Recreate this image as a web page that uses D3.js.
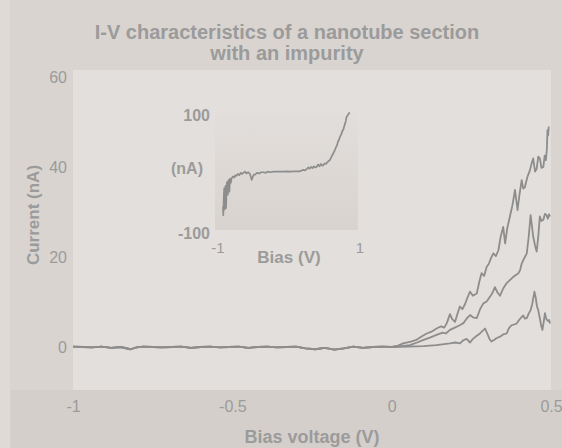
<!DOCTYPE html>
<html><head><meta charset="utf-8">
<script src="https://cdn.jsdelivr.net/npm/d3@7"></script>
<style>
html,body{margin:0;padding:0;background:#d9d4d0;}
svg{display:block;font-family:"Liberation Sans",Arial,sans-serif;}
</style></head>
<body><svg id="c" width="562" height="448"></svg>
<script>
// ---- data ----
const titleLines = ["I-V characteristics of a nanotube section", "with an impurity"];
const xTicks = [-1, -0.5, 0, 0.5];
const yTicks = [0, 20, 40, 60];
const insetXTicks = [-1, 1];
const insetYTicks = [-100, 100];

// shared flat part (V, nA)
const biasFlat = [-1.0,-0.97,-0.94,-0.91,-0.88,-0.85,-0.82,-0.80,-0.78,-0.75,-0.72,-0.69,-0.66,-0.63,-0.60,-0.57,-0.54,-0.51,-0.48,-0.45,-0.42,-0.39,-0.36,-0.33,-0.30,-0.27,-0.24,-0.21,-0.18,-0.15,-0.12,-0.09,-0.06,-0.03,0.0];
const currentFlat = [0.1,0,-0.1,0.1,-0.2,0,-0.5,-0.1,0.1,0,-0.1,0,0.1,-0.2,0,0.1,-0.1,0,0.1,-0.2,0,0.1,-0.1,0,0.1,-0.3,-0.5,-0.2,-0.6,-0.3,0.1,-0.2,0,0.1,0];

const biasHigh = [0.02,0.036,0.06,0.078,0.095,0.11,0.125,0.141,0.155,0.165,0.173,0.183,0.19,0.199,0.207,0.214,0.222,0.23,0.238,0.246,0.255,0.267,0.275,0.282,0.29,0.298,0.305,0.312,0.319,0.327,0.335,0.342,0.35,0.356,0.363,0.371,0.379,0.387,0.395,0.401,0.408,0.413,0.418,0.426,0.434,0.44,0.444,0.45,0.455,0.46,0.465,0.47,0.476,0.48,0.484,0.487,0.489,0.491,0.493];
const currentHigh = [0.3,0.8,1.2,1.6,2.4,3.0,3.4,4.1,4.6,4.3,5.3,7.3,6.2,5.6,7.5,9.0,8.4,9.5,11.0,12.3,11.4,11.9,14.5,16.4,15.8,17.8,18.5,19.8,20.8,20.2,21.5,24.5,26.7,23.0,26.5,29.0,31.5,34.9,30.4,33.8,37.1,35.2,35.5,37.8,39.3,41.0,41.9,39.0,39.6,42.3,41.9,39.8,40.0,42.5,41.5,44.0,48.2,47.0,49.0];

const biasMid = [0.03,0.057,0.08,0.1,0.12,0.141,0.16,0.17,0.183,0.195,0.204,0.215,0.225,0.235,0.246,0.255,0.267,0.278,0.288,0.298,0.309,0.316,0.324,0.332,0.34,0.35,0.361,0.37,0.382,0.39,0.398,0.403,0.408,0.413,0.418,0.424,0.43,0.436,0.44,0.444,0.45,0.455,0.46,0.465,0.47,0.476,0.481,0.486,0.49,0.494,0.497];
const currentMid = [0.2,0.4,1.0,1.6,2.1,2.7,3.2,3.0,3.8,4.2,4.5,4.9,5.3,6.3,7.1,6.6,6.4,8.5,9.7,10.1,11.2,12.0,13.3,12.1,11.4,13.0,14.2,14.8,15.6,16.0,16.4,17.1,18.5,19.3,20.0,20.8,24.5,29.3,27.0,24.6,22.5,21.2,24.5,29.0,28.0,28.3,29.6,29.3,28.5,29.5,29.0];

const biasLow = [0.05,0.1,0.14,0.183,0.2,0.214,0.225,0.235,0.246,0.255,0.265,0.277,0.285,0.293,0.3,0.307,0.313,0.322,0.33,0.34,0.35,0.361,0.368,0.376,0.384,0.392,0.4,0.407,0.413,0.418,0.424,0.43,0.436,0.441,0.444,0.448,0.452,0.456,0.46,0.466,0.47,0.473,0.477,0.481,0.485,0.49,0.494,0.497];
const currentLow = [0.1,0.2,0.4,0.8,1.0,0.8,1.5,1.8,1.0,1.8,2.4,3.0,3.6,4.1,3.0,1.8,1.2,1.6,2.0,2.3,2.8,3.0,4.2,4.8,5.0,5.2,6.0,6.6,7.0,6.3,6.4,7.4,8.2,9.5,10.7,12.3,11.0,9.0,8.2,6.0,4.5,3.8,5.5,7.5,6.3,5.8,6.0,5.2];

const biasInset = [-0.93,-0.925,-0.918,-0.911,-0.905,-0.9,-0.893,-0.887,-0.88,-0.875,-0.869,-0.862,-0.855,-0.848,-0.84,-0.83,-0.82,-0.807,-0.79,-0.77,-0.755,-0.737,-0.72,-0.7,-0.68,-0.66,-0.643,-0.62,-0.6,-0.573,-0.55,-0.535,-0.526,-0.51,-0.495,-0.479,-0.45,-0.42,-0.39,-0.362,-0.33,-0.3,-0.26,-0.22,-0.174,-0.13,-0.08,-0.03,0.02,0.07,0.12,0.155,0.18,0.2,0.22,0.249,0.27,0.29,0.31,0.33,0.35,0.37,0.39,0.41,0.43,0.45,0.47,0.484,0.5,0.52,0.54,0.56,0.577,0.59,0.605,0.62,0.635,0.648,0.66,0.675,0.69,0.705,0.718,0.73,0.745,0.755,0.765,0.78,0.79,0.8,0.812,0.825,0.835,0.845,0.859];
const currentInset = [-55,-70,-35,-24,-60,-40,-20,-58,-30,-15,-13,-35,-20,-10,-30,-8,-15,-7,-4,-6,-2,-3,0,-2,2,0,2,4,1,3,0,-6,-10,-5,-1,-1,2,1,3,3,2,4,3,4,4,4,4,4.5,4,4.5,4.5,4.5,6,7,6,8,11,9,12,10,13,11,12,16,13,17,14,15,18,17,20,22,24,27,31,34,38,41,45,48,55,58,63,66,70,74,75,82,85,90,97,99,101,103,104];

// ---- drawing ----
const svg = d3.select("#c");
const txt = "#9b9b9b", lineCol = "#8d8d8d";

svg.append("rect").attr("width",562).attr("height",448).attr("fill","#d9d4d0");
svg.append("rect").attr("x",0).attr("y",390).attr("width",562).attr("height",58).attr("fill","#d4cfcb");
svg.append("rect").attr("x",0).attr("y",0).attr("width",10).attr("height",448).attr("fill","#dedad7");

const x = d3.scaleLinear().domain([-1,0.5]).range([73,551]);
const y = d3.scaleLinear().domain([0,60]).range([347,77]);

// plot panel
svg.append("rect").attr("x",x(-1)).attr("y",70).attr("width",x(0.5)-x(-1)).attr("height",320).attr("fill","#e3dfdc");

// title
svg.append("g").selectAll("text").data(titleLines).join("text")
  .attr("x",287).attr("y",(d,i)=>39+i*21).attr("text-anchor","middle")
  .attr("font-size",20).attr("font-weight","bold").attr("fill",txt).text(d=>d);

// axes
const xAxis = svg.append("g").attr("transform",`translate(0,390)`)
  .call(d3.axisBottom(x).tickValues(xTicks).tickSize(0).tickPadding(11).tickFormat(d=>String(d)));
const yAxis = svg.append("g").attr("transform",`translate(${x(-1)},0)`)
  .call(d3.axisLeft(y).tickValues(yTicks).tickSize(0).tickPadding(6).tickFormat(d=>String(d)));
[xAxis,yAxis].forEach(a=>{
  a.select(".domain").remove();
  a.selectAll("text").attr("font-size",16).attr("fill",txt).attr("font-family","Liberation Sans, Arial, sans-serif");
});

svg.append("text").attr("x",312).attr("y",443).attr("text-anchor","middle")
  .attr("font-size",18).attr("font-weight","bold").attr("fill",txt).text("Bias voltage (V)");
svg.append("text").attr("transform","translate(39,215) rotate(-90)").attr("text-anchor","middle")
  .attr("font-size",17).attr("font-weight","bold").attr("fill",txt).text("Current (nA)");

// main curves
const line = d3.line().x(d=>x(d[0])).y(d=>y(d[1]));
const mk = (bv, cv) => biasFlat.map((v,i)=>[v,currentFlat[i]]).concat(bv.map((v,i)=>[v,cv[i]]));
const series = [mk(biasLow,currentLow), mk(biasMid,currentMid), mk(biasHigh,currentHigh)];
svg.append("g").selectAll("path").data(series).join("path")
  .attr("d",line).attr("fill","none").attr("stroke",lineCol).attr("stroke-width",1.8).attr("stroke-linejoin","round");

// inset
const xi = d3.scaleLinear().domain([-1,1]).range([218,360]);
const yi = d3.scaleLinear().domain([-100,100]).range([233,115]);
const grad = svg.append("defs").append("linearGradient").attr("id","ig").attr("x1",0).attr("y1",0).attr("x2",0).attr("y2",1);
grad.append("stop").attr("offset","0%").attr("stop-color","#e2dedb");
grad.append("stop").attr("offset","100%").attr("stop-color","#d8d3cf");
svg.append("rect").attr("x",215).attr("y",113).attr("width",143).attr("height",117).attr("fill","url(#ig)");

const insetLine = d3.line().x(d=>xi(d[0])).y(d=>yi(d[1]));
svg.append("path").datum(biasInset.map((v,i)=>[v,currentInset[i]]))
  .attr("d",insetLine).attr("fill","none").attr("stroke",lineCol).attr("stroke-width",1.7).attr("stroke-linejoin","round");

svg.append("g").selectAll("text").data(insetYTicks).join("text")
  .attr("x",210).attr("y",d=>yi(d)+6).attr("text-anchor","end")
  .attr("font-size",16).attr("font-weight","bold").attr("fill",txt).text(d=>String(d));
svg.append("text").attr("x",203).attr("y",174).attr("text-anchor","end")
  .attr("font-size",16).attr("font-weight","bold").attr("fill",txt).text("(nA)");
svg.append("g").selectAll("text").data(insetXTicks).join("text")
  .attr("x",d=>xi(d)).attr("y",253).attr("text-anchor","middle")
  .attr("font-size",15).attr("fill",txt).text(d=>String(d));
svg.append("text").attr("x",289).attr("y",263).attr("text-anchor","middle")
  .attr("font-size",17).attr("font-weight","bold").attr("fill",txt).text("Bias (V)");
</script></body></html>
